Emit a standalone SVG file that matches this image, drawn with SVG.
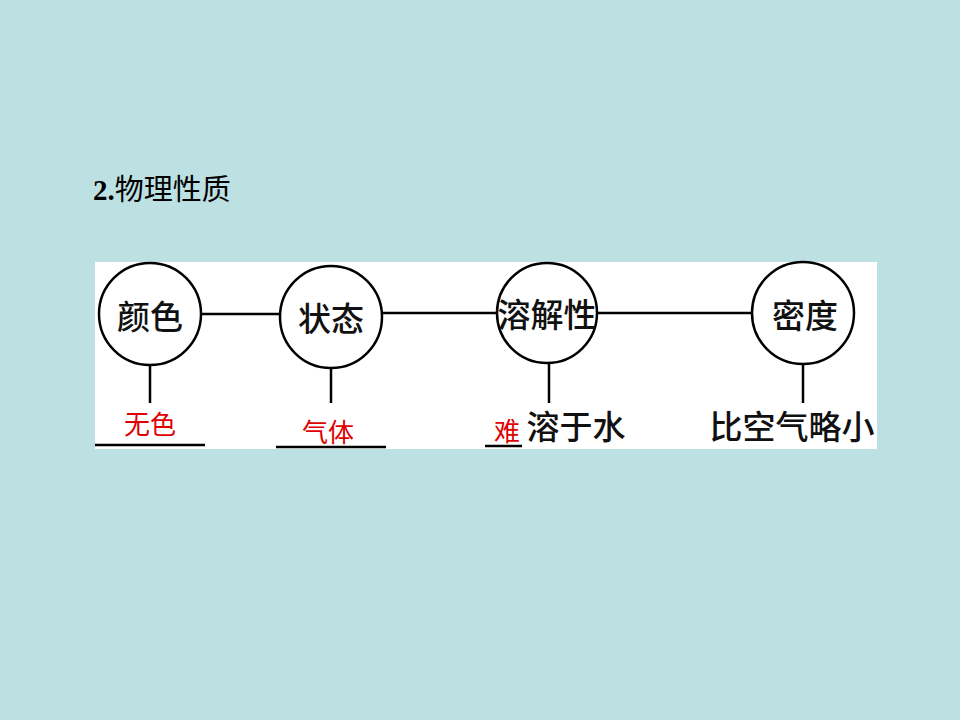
<svg xmlns="http://www.w3.org/2000/svg" width="960" height="720" viewBox="0 0 960 720">
<style>
.node circle{fill:#fff;stroke:#000;stroke-width:2.5}
.lbl{font-family:"Noto Sans CJK SC","Noto Sans",sans-serif;font-size:33px;font-weight:500;fill:#111;text-anchor:middle}
.ans{font-family:"Noto Sans CJK SC","Noto Sans",sans-serif;font-size:26px;fill:#e00000}
.conn line{stroke:#000;stroke-width:2.5}
.ul{stroke:#000;stroke-width:2.5}
</style>
<rect width="960" height="720" fill="#bde0e3"/>
<text x="93" y="200" font-family="'Liberation Serif','Noto Sans CJK SC',serif" font-size="29" font-weight="bold" fill="#000">2.<tspan font-family="'Noto Sans CJK SC',sans-serif" font-weight="normal">物理性质</tspan></text>
<rect x="95" y="262" width="782" height="187" fill="#fff"/>
<g class="conn">
<line x1="201" y1="314" x2="280" y2="314"/>
<line x1="382" y1="313" x2="497" y2="313"/>
<line x1="597" y1="313" x2="752" y2="313"/>
<line x1="150" y1="365" x2="150" y2="403"/>
<line x1="331" y1="368" x2="331" y2="403"/>
<line x1="549" y1="364" x2="549" y2="403"/>
<line x1="803" y1="364" x2="803" y2="403"/>
</g>
<g id="n1" class="node"><circle cx="150" cy="314" r="51"/><text class="lbl" x="150" y="329">颜色</text></g>
<g id="n2" class="node"><circle cx="331" cy="317" r="51"/><text class="lbl" x="331" y="331">状态</text></g>
<g id="n3" class="node"><circle cx="547" cy="313" r="50"/><text class="lbl" x="547" y="327">溶解性</text></g>
<g id="n4" class="node"><circle cx="803" cy="313" r="51"/><text class="lbl" x="805" y="328">密度</text></g>
<g id="a1"><text class="ans" x="124" y="434">无色</text><line class="ul" x1="95" y1="445" x2="205" y2="445"/></g>
<g id="a2"><text class="ans" x="302" y="442">气体</text><line class="ul" x1="276" y1="447" x2="386" y2="447"/></g>
<g id="a3"><text class="ans" x="494" y="441">难</text><line class="ul" x1="485" y1="446" x2="522" y2="446"/><text class="lbl" x="576" y="439">溶于水</text></g>
<g id="a4"><text class="lbl" x="792" y="439">比空气略小</text></g>
</svg>
